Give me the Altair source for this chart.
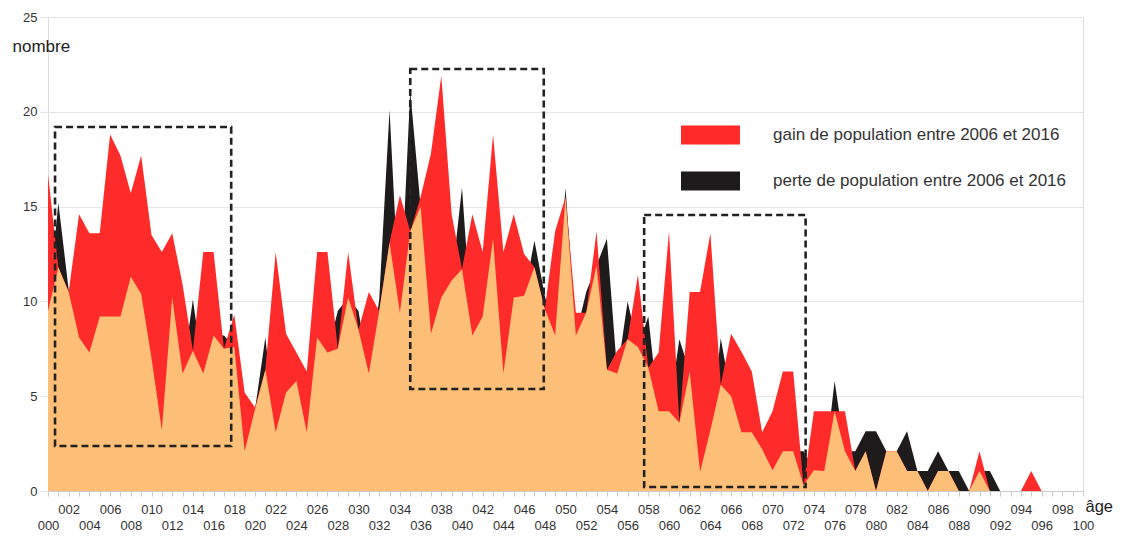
import altair as alt
import pandas as pd

# ---- data ----
ages = list(range(101))

pop_2006 = [9.5, 15.2, 10.6, 8.1, 7.3, 9.2, 9.2, 9.2, 11.3, 10.4,
            7.0, 3.2, 10.2, 6.2, 10.1, 6.2, 8.2, 8.2, 7.6, 2.1,
            4.3, 8.1, 3.1, 5.2, 5.8, 3.1, 8.1, 7.3, 9.5, 10.2,
            9.5, 6.2, 10.1, 20.1, 9.4, 21.1, 15.0, 8.3, 10.2, 11.1,
            16.0, 8.2, 9.2, 13.3, 6.2, 10.2, 10.3, 13.2, 10.3, 8.2,
            16.0, 8.2, 10.5, 11.9, 13.3, 6.2, 10.0, 7.6, 9.2, 4.2,
            4.2, 8.0, 6.3, 1.0, 3.2, 8.05, 5.0, 3.1, 3.1, 2.2,
            1.1, 2.1, 2.1, 2.1, 1.1, 1.05, 5.8, 2.1, 2.1, 3.15,
            3.15, 2.1, 2.1, 3.15, 1.05, 1.05, 2.1, 1.05, 1.05, 0,
            1.05, 1.05, 0, 0, 0, 0, 0, 0, 0, 0, 0]

pop_2016 = [16.7, 11.8, 10.5, 14.6, 13.6, 13.6, 18.8, 17.7, 15.7, 17.7,
            13.5, 12.6, 13.6, 10.9, 7.4, 12.6, 12.6, 7.5, 9.3, 5.2,
            4.4, 6.4, 12.6, 8.3, 7.3, 6.3, 12.6, 12.6, 7.5, 12.6,
            8.5, 10.5, 9.5, 13.1, 15.6, 13.7, 15.5, 17.8, 21.9, 14.6,
            11.7, 14.6, 12.6, 18.8, 12.6, 14.6, 12.5, 11.8, 9.6, 13.7,
            15.5, 9.4, 9.4, 13.7, 6.4, 7.4, 8.0, 11.4, 6.5, 7.3,
            13.7, 3.6, 10.5, 10.5, 13.6, 5.6, 8.3, 7.35, 6.3, 3.1,
            4.2, 6.3, 6.3, 0.3, 4.2, 4.2, 4.2, 4.2, 1.05, 2.1,
            0, 2.1, 2.1, 1.05, 1.05, 0, 1.05, 1.05, 0, 0,
            2.1, 0, 0, 0, 0, 1.05, 0, 0, 0, 0, 0]

# tick label rows of the age axis (staggered)
upper_row_ages = list(range(2, 100, 4))
lower_row_ages = list(range(0, 101, 4))

GAIN = "gain de population entre 2006 et 2016"
PERTE = "perte de population entre 2006 et 2016"
series_labels = [GAIN, PERTE]
series_colors = ["#FF2B2B", "#1E1B1C"]
ORANGE = "#FDBE78"

# highlighted zones (dashed frames), in data units
box_age_start = [0.68, 35.0, 57.6]
box_age_end = [17.7, 47.9, 73.2]
box_top = [19.2, 22.26, 14.56]
box_bottom = [2.37, 5.38, 0.21]

df = pd.DataFrame({"age": ages, "p2006": pop_2006, "p2016": pop_2016})
df["pmin"] = df[["p2006", "p2016"]].min(axis=1)
boxes = pd.DataFrame({"a0": box_age_start, "a1": box_age_end,
                      "v0": box_bottom, "v1": box_top})

FONT = "Liberation Sans"
x_scale = alt.Scale(domain=[0, 100], nice=False, zero=False)
y_scale = alt.Scale(domain=[0, 25], nice=False)
color_scale = alt.Scale(domain=series_labels, range=series_colors)

label_style = dict(labelFontSize=13, labelColor="#333333", labelFont=FONT,
                   labelOverlap=False, labelFlush=False, labelBound=False,
                   labelBaseline="top",
                   labelExpr="format(datum.value, '03d')")

x_axis_ticks = alt.Axis(
    orient="bottom", values=ages, labels=False,
    tickSize=5, tickColor="#cccccc", domainColor="#cccccc", grid=False,
    title="âge", titleAngle=0, titleX=1037, titleY=15,
    titleAlign="left", titleBaseline="middle",
    titleFontSize=16.5, titleFontWeight="normal", titleColor="#222222",
    titleFont=FONT,
)
x_axis_upper = alt.Axis(
    orient="bottom", values=upper_row_ages, ticks=False, domain=False,
    grid=False, title=None, labelPadding=12, **label_style,
)
x_axis_lower = alt.Axis(
    orient="bottom", values=lower_row_ages, ticks=False, domain=False,
    grid=False, title=None, labelPadding=28, **label_style,
)
y_axis = alt.Axis(
    values=[0, 5, 10, 15, 20, 25],
    grid=True, gridColor="#e6e6e6", tickColor="#e6e6e6", tickSize=8,
    domainColor="#dddddd",
    labelFontSize=13, labelColor="#333333", labelFont=FONT, labelPadding=3,
    title="nombre", titleAngle=0, titleX=-36, titleY=29,
    titleAlign="left", titleBaseline="middle",
    titleFontSize=17, titleFontWeight="normal", titleColor="#222222",
    titleFont=FONT,
)

legend = alt.Legend(
    title=None, orient="none", legendX=652.5, legendY=108,
    direction="vertical",
    symbolType="M-2.95,-0.95L2.95,-0.95L2.95,0.95L-2.95,0.95Z",
    symbolSize=400, symbolStrokeWidth=0, symbolOpacity=1,
    labelFontSize=17, labelColor="#333333", labelFont=FONT,
    labelOffset=52.5, labelLimit=0, rowPadding=26,
)

base = alt.Chart(df)

loss_layer = base.mark_area(interpolate="linear", opacity=1).transform_calculate(
    serie=f"'{PERTE}'"
).encode(
    x=alt.X("age:Q", scale=x_scale, axis=x_axis_ticks),
    y=alt.Y("p2006:Q", scale=y_scale, axis=y_axis),
    color=alt.Color("serie:N", scale=color_scale, legend=legend),
)

gain_layer = base.mark_area(interpolate="linear", opacity=1).transform_calculate(
    serie=f"'{GAIN}'"
).encode(
    x=alt.X("age:Q", scale=x_scale, axis=x_axis_upper),
    y=alt.Y("p2016:Q", scale=y_scale),
    color=alt.Color("serie:N", scale=color_scale, legend=legend),
)

min_layer = base.mark_area(interpolate="linear", opacity=1, color=ORANGE).encode(
    x=alt.X("age:Q", scale=x_scale, axis=x_axis_lower),
    y=alt.Y("pmin:Q", scale=y_scale),
)

frames = alt.Chart(boxes).mark_rect(
    fillOpacity=0, stroke="#222222", strokeWidth=2.6, strokeDash=[7, 4]
).encode(
    x=alt.X("a0:Q", scale=x_scale, axis=None),
    x2="a1:Q",
    y=alt.Y("v1:Q", scale=y_scale),
    y2="v0:Q",
)

chart = alt.layer(loss_layer, gain_layer, min_layer, frames).resolve_axis(
    x="independent"
).properties(
    width=1035, height=474,
    autosize=alt.AutoSizeParams(type="none"),
    padding={"left": 40, "top": 9, "right": 30, "bottom": 40},
).configure_view(stroke="#dddddd", strokeWidth=1).configure(background="white")

chart.save("out.html", embed_options={"renderer": "svg", "actions": False})
